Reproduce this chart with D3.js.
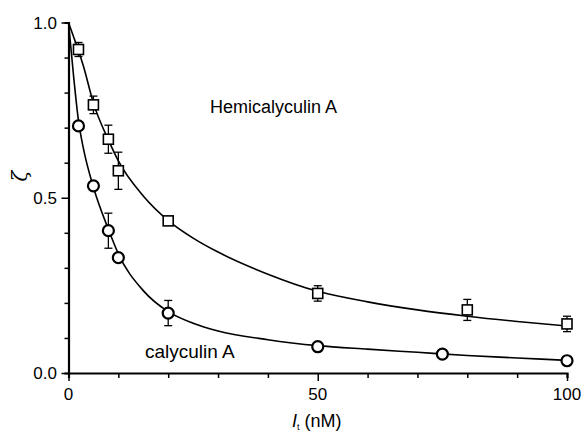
<!DOCTYPE html>
<html>
<head>
<meta charset="utf-8">
<script src="https://cdn.jsdelivr.net/npm/d3@7"></script>
<style>
  body { margin: 0; background: #fff; }
  svg { display: block; font-family: "Liberation Sans", Arial, sans-serif; }
</style>
</head>
<body>
<div id="vis"></div>
<script>
// DATA
const hemiX = [2, 5, 8, 10, 20, 50, 80, 100];
const hemiY = [0.923, 0.765, 0.667, 0.577, 0.434, 0.227, 0.18, 0.14];
const hemiErr = [0.02, 0.025, 0.04, 0.053, 0.012, 0.022, 0.03, 0.022];

const calyX = [2, 5, 8, 10, 20, 50, 75, 100];
const calyY = [0.705, 0.534, 0.406, 0.329, 0.171, 0.075, 0.054, 0.035];
const calyErr = [0, 0, 0.05, 0, 0.036, 0.008, 0.012, 0];

// fitted curves
const fitX = [0, 1, 2, 3, 5, 8, 10, 15, 20, 25, 30, 40, 50, 60, 70, 80, 90, 100];
const hemiFit = [1.0, 0.96, 0.92, 0.875, 0.77, 0.665, 0.605, 0.505, 0.435, 0.385, 0.345, 0.282, 0.233, 0.203, 0.18, 0.162, 0.147, 0.134];
const calyFit = [1.0, 0.85, 0.72, 0.64, 0.53, 0.41, 0.34, 0.235, 0.175, 0.142, 0.12, 0.095, 0.078, 0.068, 0.059, 0.05, 0.043, 0.036];

const xTicks = [0, 50, 100];
const yTicks = [0, 0.5, 1.0];

// SETUP
const width = 585, height = 435;
const margin = {left: 68.5, right: 18, top: 22.5, bottom: 62};

const svg = d3.select("#vis").append("svg")
  .attr("width", width)
  .attr("height", height);

const x = d3.scaleLinear().domain([0, 100]).range([margin.left, width - margin.right]);
const y = d3.scaleLinear().domain([0, 1]).range([height - margin.bottom, margin.top]);

// AXES
const xAxis = svg.append("g")
  .attr("transform", `translate(0,${y(0)})`)
  .call(d3.axisBottom(x).tickValues(d3.range(0, 101, 10)).tickSize(5).tickFormat(""));
xAxis.selectAll(".tick line").attr("stroke-width", 1.5)
  .attr("y2", d => xTicks.includes(d) ? 8 : 5);

const yAxis = svg.append("g")
  .attr("transform", `translate(${x(0)},0)`)
  .call(d3.axisLeft(y).tickValues(d3.range(0, 11).map(i => i / 10)).tickSize(4).tickFormat(""));
yAxis.selectAll(".tick line").attr("stroke-width", 1.5)
  .attr("x2", d => yTicks.some(t => Math.abs(t - d) < 1e-6) ? -7 : -4);

[xAxis, yAxis].forEach(g => g.select(".domain").attr("stroke-width", 2.2));

svg.selectAll(".xlab").data(xTicks).enter().append("text")
  .attr("x", d => x(d)).attr("y", 400)
  .attr("text-anchor", "middle")
  .attr("font-size", 17)
  .text(d => d);

svg.selectAll(".ylab").data(yTicks).enter().append("text")
  .attr("x", 57).attr("y", d => y(d) + 6)
  .attr("text-anchor", "end")
  .attr("font-size", 17)
  .text(d => d.toFixed(1));

// axis titles
svg.append("text")
  .attr("transform", "translate(27,176) rotate(-90)")
  .attr("text-anchor", "middle")
  .attr("font-size", 20)
  .attr("font-style", "italic")
  .attr("font-family", "DejaVu Serif, serif")
  .text("ζ");

const xt = svg.append("text")
  .attr("x", 292).attr("y", 427)
  .attr("font-size", 18);
xt.append("tspan").attr("font-style", "italic").text("I");
xt.append("tspan").attr("font-size", 9).attr("dy", 3).text("t");
xt.append("tspan").attr("dy", -3).text(" (nM)");

// CURVES
const line = d3.line()
  .x(d => x(d[0]))
  .y(d => y(d[1]))
  .curve(d3.curveMonotoneX);

[hemiFit, calyFit].forEach(fit => {
  svg.append("path")
    .datum(fitX.map((v, i) => [v, fit[i]]))
    .attr("d", line)
    .attr("fill", "none")
    .attr("stroke", "#000")
    .attr("stroke-width", 1.6);
});

// ERROR BARS
function errorBars(xs, ys, es) {
  const data = xs.map((v, i) => ({x: v, y: ys[i], e: es[i]})).filter(d => d.e > 0);
  const g = svg.append("g").attr("stroke", "#000").attr("stroke-width", 1.3);
  data.forEach(d => {
    const cx = x(d.x);
    g.append("line").attr("x1", cx).attr("x2", cx).attr("y1", y(d.y + d.e)).attr("y2", y(d.y - d.e));
    g.append("line").attr("x1", cx - 4).attr("x2", cx + 4).attr("y1", y(d.y + d.e)).attr("y2", y(d.y + d.e));
    g.append("line").attr("x1", cx - 4).attr("x2", cx + 4).attr("y1", y(d.y - d.e)).attr("y2", y(d.y - d.e));
  });
}
errorBars(hemiX, hemiY, hemiErr);
errorBars(calyX, calyY, calyErr);

// MARKERS
svg.selectAll(".sq").data(hemiX.map((v, i) => [v, hemiY[i]])).enter().append("rect")
  .attr("x", d => x(d[0]) - 5).attr("y", d => y(d[1]) - 5)
  .attr("width", 10).attr("height", 10)
  .attr("fill", "#fff").attr("stroke", "#000").attr("stroke-width", 1.6);

svg.selectAll(".ci").data(calyX.map((v, i) => [v, calyY[i]])).enter().append("circle")
  .attr("cx", d => x(d[0])).attr("cy", d => y(d[1]))
  .attr("r", 5.5)
  .attr("fill", "#fff").attr("stroke", "#000").attr("stroke-width", 2.2);

// LABELS
svg.append("text").attr("x", 210).attr("y", 113).attr("font-size", 18).text("Hemicalyculin A");
svg.append("text").attr("x", 145).attr("y", 358).attr("font-size", 19).text("calyculin A");
</script>
</body>
</html>
